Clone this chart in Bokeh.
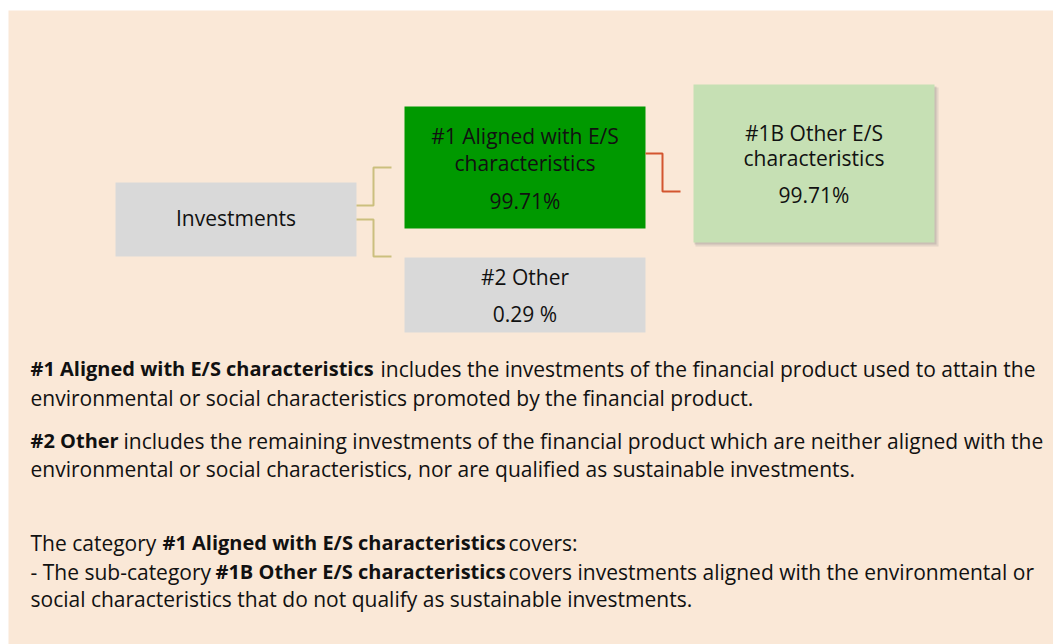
from bokeh.plotting import figure
from bokeh.models import Range1d
from bokeh.core.properties import value
from bokeh.embed import file_html
from bokeh.resources import INLINE

# ---- data ----
box_names = ["Investments", "#1 Aligned with E/S characteristics", "#2 Other", "#1B Other E/S characteristics"]
box_shares = [100.0, 99.71, 0.29, 99.71]
share_labels = ["", "99.71%", "0.29 %", "99.71%"]

# ---- layout (reference pixel coordinates) ----
FONT = value("Open Sans")
BG = "#FAE8D7"
p = figure(width=1053, height=644, output_backend="svg", toolbar_location=None,
           x_range=Range1d(8, 1053), y_range=Range1d(644, 10),
           min_border=0, min_border_left=8, min_border_top=10,
           background_fill_color=BG, border_fill_color="white")
p.axis.visible = False
p.grid.visible = False
p.outline_line_color = None

# shadow for #1B box
p.quad(left=[695], right=[938], top=[87], bottom=[246], fill_color="#7f7f7f", fill_alpha=0.18, line_color=None)
p.quad(left=[694], right=[936], top=[86], bottom=[244], fill_color="#7f7f7f", fill_alpha=0.25, line_color=None)

# boxes
p.quad(left=[115], right=[356], top=[182], bottom=[256], fill_color="#D9D9D9", line_color=None)
p.quad(left=[404], right=[645], top=[106], bottom=[228], fill_color="#009900", line_color=None)
p.quad(left=[404], right=[645], top=[257], bottom=[332], fill_color="#D9D9D9", line_color=None)
p.quad(left=[693], right=[934], top=[84], bottom=[242], fill_color="#C6E0B4", line_color=None)

# connectors
p.line(x=[356, 373, 373, 391], y=[205, 205, 167, 167], line_color="#CBBF7E", line_width=2)
p.line(x=[356, 373, 373, 391], y=[219, 219, 256, 256], line_color="#CBBF7E", line_width=2)
p.line(x=[645, 662, 662, 680], y=[153, 153, 191, 191], line_color="#D3552F", line_width=2)

# box texts
tk = dict(text_font=FONT, text_font_size="21px", text_align="center", text_baseline="middle", text_color="#111111")
p.text(x=[235.5], y=[217], text=[box_names[0]], **tk)
p.text(x=[524.5, 524.5, 524.5], y=[135, 162, 200],
       text=["#1 Aligned with E/S", "characteristics", share_labels[1]], **tk)
p.text(x=[524.5, 524.5], y=[276, 313], text=[box_names[2], share_labels[2]], **tk)
p.text(x=[813.5, 813.5, 813.5], y=[132, 157, 194],
       text=["#1B Other E/S", "characteristics", share_labels[3]], **tk)

# description texts
nk = dict(text_font=FONT, text_font_size="21px", text_align="left", text_baseline="middle", text_color="#111111")
bk = dict(nk, text_font_style="bold", text_font_size="20px")

p.text(x=[30], y=[368], text=["#1 Aligned with E/S characteristics"], **bk)
p.text(x=[380], y=[368], text=["includes the investments of the financial product used to attain the"], **nk)
p.text(x=[30], y=[397], text=["environmental or social characteristics promoted by the financial product."], **nk)

p.text(x=[30], y=[440], text=["#2 Other"], **bk)
p.text(x=[123], y=[440], text=["includes the remaining investments of the financial product which are neither aligned with the"], **nk)
p.text(x=[30], y=[468], text=["environmental or social characteristics, nor are qualified as sustainable investments."], **nk)

p.text(x=[30], y=[542], text=["The category"], **nk)
p.text(x=[162], y=[542], text=["#1 Aligned with E/S characteristics"], **bk)
p.text(x=[508], y=[542], text=["covers:"], **nk)

p.text(x=[30], y=[571], text=["- The sub-category"], **nk)
p.text(x=[215], y=[571], text=["#1B Other E/S characteristics"], **bk)
p.text(x=[508], y=[571], text=["covers investments aligned with the environmental or"], **nk)
p.text(x=[30], y=[598], text=["social characteristics that do not qualify as sustainable investments."], **nk)

open("out.html", "w").write(file_html(p, INLINE))
